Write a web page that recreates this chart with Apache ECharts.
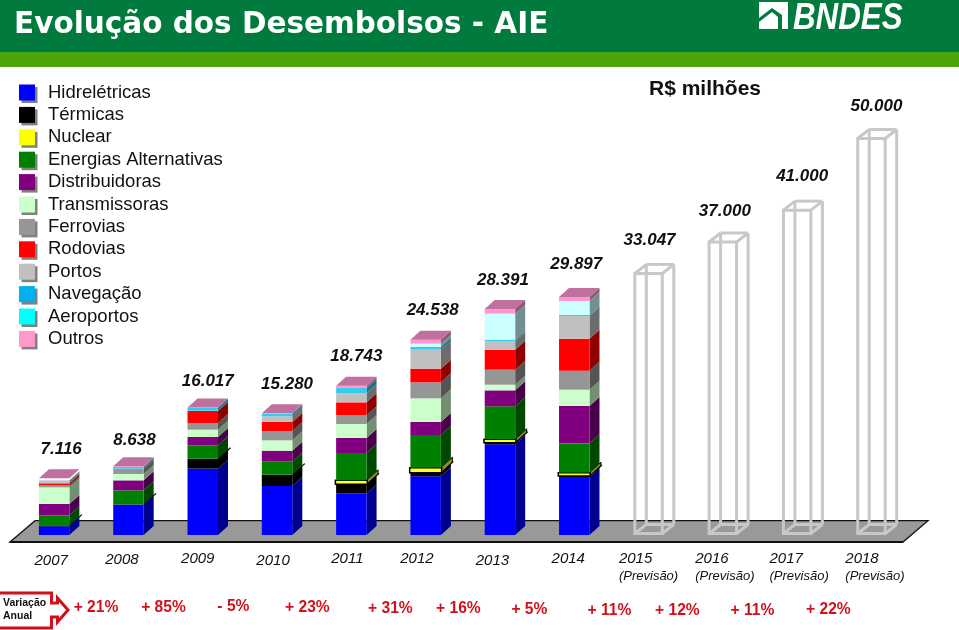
<!DOCTYPE html>
<html><head><meta charset="utf-8">
<script src="https://cdn.jsdelivr.net/npm/echarts@6/dist/echarts.min.js"></script>
<style>html,body{margin:0;padding:0;background:#fff}#c{width:959px;height:630px}</style>
</head><body><div id="c"></div>
<script>
const years = ['2007','2008','2009','2010','2011','2012','2013','2014','2015','2016','2017','2018'];
const totals = [7116,8638,16017,15280,18743,24538,28391,29897,33047,37000,41000,50000];
const forecastFrom = 8;
const variation = ['+ 21%','+ 85%','- 5%','+ 23%','+ 31%','+ 16%','+ 5%','+ 11%','+ 12%','+ 11%','+ 22%'];

const hidreletricas = [1089,3810,8332,6155,5192,7369,11388,7285];
const termicas      = [84,40,1256,1424,1172,461,209,126];
const nuclear       = [0,0,0,0,502,628,419,419];
const alternativas  = [1298,1760,1675,1633,3433,4103,4145,3684];
const distribuidoras= [1424,1256,1047,1382,1884,1633,2010,4689];
const transmissoras = [2093,795,921,1298,1758,2973,712,2052];
const ferrovias     = [251,670,837,1172,1089,2010,1884,2387];
const rodovias      = [251,0,1507,1130,1633,1717,2512,4020];
const portos        = [251,0,40,712,1130,2387,1089,2847];
const navegacao     = [84,210,377,293,670,335,167,126];
const aeroportos    = [0,0,0,0,0,419,3266,1758];
const outros        = [40,97,25,81,280,503,590,504];

const sectors = [
  ['Hidrelétricas',hidreletricas,'#0000FF','#0000FF'],
  ['Térmicas',termicas,'#000000','#000000'],
  ['Nuclear',nuclear,'#FFFF00','#FFFF33'],
  ['Energias Alternativas',alternativas,'#008000','#008000'],
  ['Distribuidoras',distribuidoras,'#800080','#800080'],
  ['Transmissoras',transmissoras,'#CCFFCC','#CCFFCC'],
  ['Ferrovias',ferrovias,'#969696','#969696'],
  ['Rodovias',rodovias,'#FF0000','#FF0000'],
  ['Portos',portos,'#C0C0C0','#C0C0C0'],
  ['Navegação',navegacao,'#00B0F0','#33CCEE'],
  ['Aeroportos',aeroportos,'#00FFFF','#CCFFFF'],
  ['Outros',outros,'#FF99CC','#FF99CC']
];

// small hand placement of the texts, as in the source slide
const yearNudgeX = [-3,-6.5,-5,-4,-4,-8.7,-7.5,-6,0,2,2,3.5];
const yearNudgeY = [2,0.7,0,2,0,0,1.5,0,0,0,0,0];
const totalNudgeX = [7,6,5,10,5,7,3,2,1,2,5,5];
const totalNudgeY = [29,26,26.5,29,29,29,29,33,32,29.5,32,31];
const variationNudgeX = [4.7,-2.1,-6.5,-6.8,1.9,-4.4,-7.7,-2,-8.3,-7.6,-5.9];
const variationY = [608,608,607,608,609,609,610,611,611,611,610];

const DEPTH_X = 10, DEPTH_Y = 9;

function shade(hex,f){
  const n=parseInt(hex.slice(1),16);
  const c=[n>>16&255,n>>8&255,n&255].map(v=>Math.round(v*f));
  return 'rgb('+c.join(',')+')';
}
const fmt = v => String(v).replace(/\B(?=(\d{3})+$)/g,'.');

function stackItem(name,fill){
  return function(params,api){
    const i=api.value(0), a=api.value(1), b=api.value(2);
    if(b<=a) return null;
    const bw=api.size([1,0])[0]*0.41;
    const p0=api.coord([i,a]), p1=api.coord([i,b]);
    const l=p0[0]-bw/2, r=p0[0]+bw/2, y0=p0[1], y1=p1[1];
    const isNuc=name==='Nuclear';
    const ext=isNuc?1.5:0;
    const side={type:'polygon',shape:{points:[[r,y0],[r+DEPTH_X+ext,y0-DEPTH_Y-ext],[r+DEPTH_X+ext,y1-DEPTH_Y-ext],[r,y1]]},
      style:{fill:isNuc?'#8C8C20':shade(fill,0.56),stroke:isNuc?'#000':null,lineWidth:isNuc?1:0}};
    const front={type:'rect',shape:{x:l-ext/2,y:y1,width:bw+ext,height:y0-y1},
      style:{fill:fill,stroke:isNuc?'#000':null,lineWidth:isNuc?1.5:0}};
    const ch=[side,front];
    if(name==='Térmicas'){
      ch.push({type:'line',shape:{x1:r,y1:y1,x2:r+DEPTH_X+2.5,y2:y1-DEPTH_Y-2},style:{stroke:'#000',lineWidth:1.2}});
    }
    return {type:'group',children:ch};
  };
}

const stackSeries = sectors.map((s,si)=>({
  type:'custom',name:s[0],coordinateSystem:'cartesian2d',z:3,
  itemStyle:{color:s[2]},
  renderItem:stackItem(s[0],s[3]),
  encode:{x:0,y:[1,2]},
  data:s[1].map((v,i)=>{
    let st=0; for(let k=0;k<si;k++) st+=sectors[k][1][i];
    return [i,st,st+v];
  })
}));

const totalSeries={
  type:'custom',name:'Total',z:4,
  renderItem(params,api){
    const i=api.value(0), t=api.value(1);
    const bw=api.size([1,0])[0]*0.41;
    const p0=api.coord([i,0]), p1=api.coord([i,t]);
    const l=p0[0]-bw/2, r=p0[0]+bw/2, y0=p0[1], y1=p1[1];
    const ch=[];
    if(i<forecastFrom){
      ch.push({type:'polygon',shape:{points:[[l,y1],[l+DEPTH_X,y1-DEPTH_Y],[r+DEPTH_X,y1-DEPTH_Y],[r,y1]]},style:{fill:'#C0709F'}});
    }else{
      const a=1.5, L=l+a, R=r-a, B=y0-a, T=y1+a;
      const dx=DEPTH_X+a, dy=DEPTH_Y;
      const st={stroke:'#C8C8C8',lineWidth:3,fill:null};
      const seg=(x1,y1_,x2,y2)=>({type:'line',shape:{x1:x1,y1:y1_,x2:x2,y2:y2},style:st});
      ch.push(seg(L+dx,B-dy,R+dx,B-dy),seg(L+dx,T-dy,L+dx,B-dy),seg(R+dx,T-dy,R+dx,B-dy),seg(L+dx,T-dy,R+dx,T-dy));
      ch.push(seg(L,T,L+dx,T-dy),seg(R,T,R+dx,T-dy),seg(L,B,L+dx,B-dy),seg(R,B,R+dx,B-dy));
      ch.push({type:'rect',shape:{x:L,y:T,width:R-L,height:B-T},style:st});
    }
    ch.push({type:'text',style:{text:fmt(t),x:p0[0]+totalNudgeX[i],y:y1-totalNudgeY[i],align:'center',verticalAlign:'middle',
      font:'italic bold 17px "Liberation Sans"',fill:'#111'}});
    return {type:'group',children:ch};
  },
  encode:{x:0,y:1},
  data:totals.map((t,i)=>[i,t])
};

const variationSeries={
  type:'custom',name:'Variação Anual',z:4,
  renderItem(params,api){
    const i=api.value(0);
    const p=api.coord([i,0]);
    const step=api.size([1,0])[0];
    return {type:'text',style:{text:variation[i],x:p[0]+step/2+variationNudgeX[i],y:variationY[i],align:'center',verticalAlign:'middle',
      font:'bold 15.6px "Liberation Sans"',fill:'#D0111B'}};
  },
  encode:{x:0,y:1},
  data:variation.map((v,i)=>[i,0])
};

const band=(x,y,w,h,f)=>({type:'rect',z:0,shape:{x:x,y:y,width:w,height:h},style:{fill:f}});
const G='#007A3D';
const option={
  animation:false,
  backgroundColor:'#fff',
  title:[
    {text:'Evolução dos Desembolsos - AIE',left:9,top:5,textStyle:{color:'#fff',fontFamily:'DejaVu Sans',fontWeight:'bold',fontSize:29.5}},
    {text:'R$ milhões',left:644,top:74,textStyle:{color:'#111',fontFamily:'Liberation Sans',fontWeight:'bold',fontSize:21}}
  ],
  grid:{left:17,width:891.6,top:57.4,height:477.6},
  xAxis:{type:'category',
    data:years.map((y,i)=>({value:y,textStyle:{padding:[Math.max(0,yearNudgeY[i]),yearNudgeX[i]<0?-2*yearNudgeX[i]:0,0,yearNudgeX[i]>0?2*yearNudgeX[i]:0]}})),
    axisLine:{show:false},axisTick:{show:false},
    axisLabel:{margin:15,interval:0,
      formatter:(v,i)=> i>=forecastFrom ? '{a|'+v+'}\n{b|(Previsão)}' : '{a|'+v+'}',
      rich:{a:{fontFamily:'Liberation Sans',fontStyle:'italic',fontSize:15,color:'#111',align:'left',lineHeight:18},
            b:{fontFamily:'Liberation Sans',fontStyle:'italic',fontSize:13,color:'#111',align:'left',lineHeight:17}}}
  },
  yAxis:{type:'value',min:0,max:60000,show:false,splitLine:{show:false}},
  legend:{show:true,data:sectors.map(s=>s[0]),orient:'vertical',left:14,top:78,itemWidth:16,itemHeight:16,itemGap:3.4,icon:'rect',selectedMode:false,
    itemStyle:{shadowColor:'#808080',shadowBlur:0,shadowOffsetX:2.5,shadowOffsetY:2.5},
    textStyle:{fontFamily:'Liberation Sans',fontSize:18.5,color:'#111',padding:[0,0,0,8]}},
  tooltip:{show:false},
  graphic:[
    band(0,0,959,52,G),
    band(0,52,959,15,'#4EA50A'),
    {type:'polygon',z:1,shape:{points:[[10,542],[35,520.7],[928,520.7],[903,542]]},style:{fill:'#999999',stroke:'#111',lineWidth:1.3}},
    {type:'line',z:1,shape:{x1:10,y1:542,x2:903,y2:542},style:{stroke:'#111',lineWidth:2}},
    band(759,2,29,27,'#fff'),
    {type:'polygon',z:1,shape:{points:[[759,18],[772,8],[782,15],[782,29],[778,29],[778,17],[772,12],[759,22]]},style:{fill:G}},
    {type:'polygon',z:1,shape:{points:[[782,12],[788,2],[788,9]]},style:{fill:'#fff'}},
    {type:'text',z:1,x:793,y:1,scaleX:0.87,style:{text:'BNDES',font:'italic bold 36px "Liberation Sans"',fill:'#fff'}},
    {type:'polyline',z:5,shape:{points:[[-2,593],[51.5,593],[51.5,603],[57.5,603],[57.5,598],[68,610],[57.5,622],[57.5,617],[51.5,617],[51.5,628],[-2,628]]},style:{stroke:'#D0111B',lineWidth:3,fill:'#fff'}},
    {type:'text',z:6,x:3,y:598,style:{text:'Variação',font:'bold 10.5px "Liberation Sans"',fill:'#111'}},
    {type:'text',z:6,x:3,y:611,style:{text:'Anual',font:'bold 10.5px "Liberation Sans"',fill:'#111'}}
  ],
  series:[...stackSeries,totalSeries,variationSeries]
};
const chart=echarts.init(document.getElementById('c'),null,{renderer:'canvas'});
chart.setOption(option);
</script></body></html>
